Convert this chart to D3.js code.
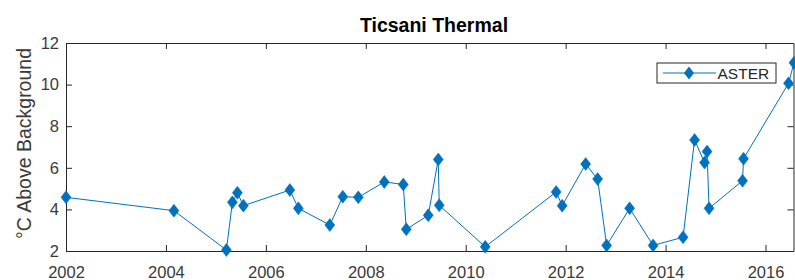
<!DOCTYPE html>
<html>
<head>
<meta charset="utf-8">
<script src="https://cdn.jsdelivr.net/npm/d3@7"></script>
<style>
  body { margin: 0; background: #fff; }
  svg { font-family: "Liberation Sans", Arial, sans-serif; }
  .axis path, .axis line { stroke: #262626; stroke-width: 1; }
  .axis text { fill: #3a3a3a; font-size: 16.5px; }
</style>
</head>
<body>
<svg id="chart" width="795" height="280"></svg>
<script>
// decimal year of each ASTER scene, and °C above background
const dates = [2002.00, 2004.16, 2005.21, 2005.33, 2005.43, 2005.55, 2006.48, 2006.65,
  2007.28, 2007.54, 2007.85, 2008.37, 2008.75, 2008.81, 2009.25, 2009.45, 2009.47,
  2010.39, 2011.81, 2011.93, 2012.40, 2012.64, 2012.82, 2013.28, 2013.75, 2014.35,
  2014.58, 2014.78, 2014.83, 2014.87, 2015.54, 2015.56, 2016.46, 2016.57];
const values = [4.58, 3.94, 2.05, 4.34, 4.80, 4.18, 4.93, 4.05,
  3.25, 4.61, 4.58, 5.32, 5.20, 3.04, 3.72, 6.40, 4.20,
  2.20, 4.84, 4.18, 6.18, 5.46, 2.27, 4.05, 2.27, 2.66,
  7.34, 6.25, 6.78, 4.05, 5.38, 6.44, 10.06, 11.05];
const xTicks = [2002, 2004, 2006, 2008, 2010, 2012, 2014, 2016];
const yTicks = [2, 4, 6, 8, 10, 12];
const seriesName = 'ASTER';
const title = 'Ticsani Thermal';
const yLabel = '°C Above Background';

const svg = d3.select('#chart');
const mLeft = 66, mRight = 793.5, mTop = 43, mBottom = 251;
const blue = '#0072BD';

const x = d3.scaleLinear().domain([2002, 2016.56]).range([mLeft, mRight]);
const y = d3.scaleLinear().domain([2, 12]).range([mBottom, mTop]);

// axes: ticks point inward on all four sides
svg.append('g').attr('class', 'axis')
  .attr('transform', `translate(0,${mBottom})`)
  .call(d3.axisBottom(x).tickValues(xTicks).tickFormat(d3.format('d'))
    .tickSizeInner(-6).tickSizeOuter(0).tickPadding(15));
svg.append('g').attr('class', 'axis')
  .attr('transform', `translate(0,${mTop})`)
  .call(d3.axisTop(x).tickValues(xTicks).tickFormat('')
    .tickSizeInner(-6).tickSizeOuter(0));
svg.append('g').attr('class', 'axis')
  .attr('transform', `translate(${mLeft},0)`)
  .call(d3.axisLeft(y).tickValues(yTicks).tickFormat(d3.format('d'))
    .tickSizeInner(-6).tickSizeOuter(0).tickPadding(7));
svg.append('g').attr('class', 'axis')
  .attr('transform', `translate(${mRight},0)`)
  .call(d3.axisRight(y).tickValues(yTicks).tickFormat('')
    .tickSizeInner(-6).tickSizeOuter(0));

svg.selectAll('.axis .domain').attr('stroke', '#262626');

// series
const pts = dates.map((d, i) => ({ date: d, value: values[i] }));
const line = d3.line().x(d => x(d.date)).y(d => y(d.value));
const diamond = 'M0,-6.5L5,0L0,6.5L-5,0Z';

svg.append('path')
  .attr('d', line(pts))
  .attr('fill', 'none')
  .attr('stroke', blue)
  .attr('stroke-width', 1);

svg.append('g').selectAll('path')
  .data(pts)
  .enter()
  .append('path')
    .attr('d', diamond)
    .attr('transform', d => `translate(${x(d.date)},${y(d.value)})`)
    .attr('fill', blue)
    .attr('stroke', blue)
    .attr('stroke-width', 0.5);

// title and y label
svg.append('text')
  .attr('x', 434).attr('y', 31.5)
  .attr('text-anchor', 'middle')
  .style('font-size', '19.5px').style('font-weight', 'bold')
  .attr('fill', '#000')
  .text(title);

svg.append('text')
  .attr('transform', 'translate(30.5,143.5) rotate(-90)')
  .attr('text-anchor', 'middle')
  .style('font-size', '19.5px')
  .attr('fill', '#3a3a3a')
  .text(yLabel);

// legend
const lg = svg.append('g').attr('transform', 'translate(657,63)');
lg.append('rect')
  .attr('width', 119).attr('height', 20)
  .attr('fill', '#fff').attr('stroke', '#262626').attr('stroke-width', 1);
lg.append('line')
  .attr('x1', 6).attr('x2', 59).attr('y1', 10).attr('y2', 10)
  .attr('stroke', blue).attr('stroke-width', 1);
lg.append('path')
  .attr('d', diamond)
  .attr('transform', 'translate(32,10)')
  .attr('fill', blue);
lg.append('text')
  .attr('x', 60.5).attr('y', 16)
  .style('font-size', '15.5px')
  .attr('fill', '#262626')
  .text(seriesName);
</script>
</body>
</html>
